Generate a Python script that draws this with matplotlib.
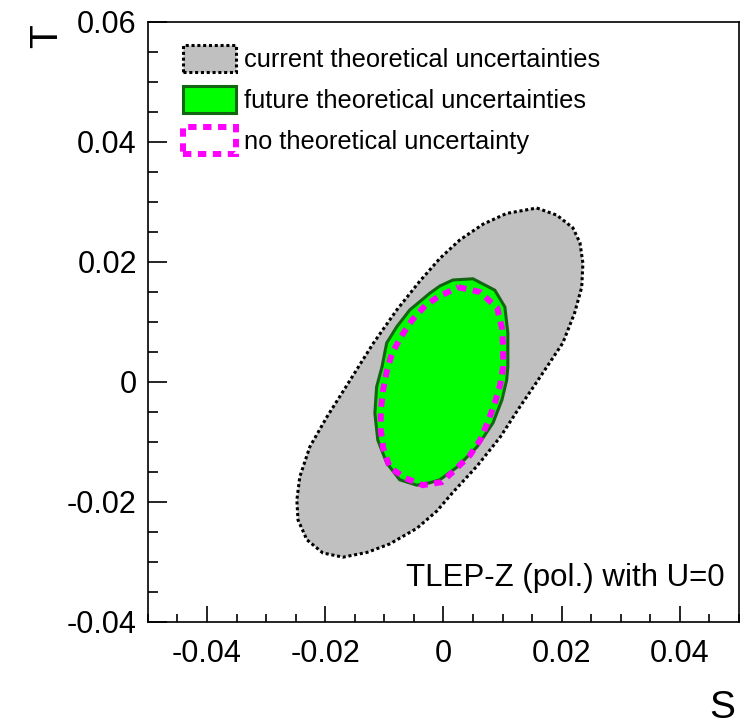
import matplotlib
matplotlib.use("Agg")
import matplotlib.pyplot as plt
from matplotlib.patches import Patch
from matplotlib.ticker import MultipleLocator, FuncFormatter

plt.rcParams['font.family'] = ['Liberation Sans', 'DejaVu Sans']

# contour of current theoretical uncertainties (S, T)
cur_S = [0.0158, 0.0192, 0.0219, 0.0231, 0.0236, 0.0234, 0.0222, 0.0202, 0.0158,
         0.0129, 0.0096, 0.0057, 0.0016, -0.0011, -0.0045, -0.0091, -0.0129, -0.0170,
         -0.0204, -0.0231, -0.0246, -0.0248, -0.0243, -0.0226, -0.0197, -0.0163,
         -0.0119, -0.0079, -0.0040, -0.0006, 0.0028, 0.0067, 0.0107]
cur_T = [0.0290, 0.0278, 0.0257, 0.0232, 0.0198, 0.0158, 0.0115, 0.0065, 0.0000,
         -0.0042, -0.0092, -0.0140, -0.0184, -0.0215, -0.0244, -0.0270, -0.0284, -0.0292,
         -0.0285, -0.0263, -0.0230, -0.0197, -0.0158, -0.0108, -0.0058, -0.0005,
         0.0064, 0.0120, 0.0168, 0.0206, 0.0237, 0.0263, 0.0281]

# contour of future theoretical uncertainties
fut_S = [0.0050, 0.0087, 0.0104, 0.0109, 0.0109, 0.0107, 0.0099, 0.0084, 0.0057,
         0.0023, -0.0006, -0.0023, -0.0045, -0.0074, -0.0096, -0.0111, -0.0116,
         -0.0113, -0.0104, -0.0096, -0.0079, -0.0057, -0.0023, -0.0006, 0.0016]
fut_T = [0.0172, 0.0153, 0.0125, 0.0082, 0.0025, 0.0003, -0.0030, -0.0068, -0.0108,
         -0.0142, -0.0163, -0.0168, -0.0172, -0.0163, -0.0135, -0.0097, -0.0052,
         -0.0008, 0.0025, 0.0065, 0.0092, 0.0120, 0.0148, 0.0160, 0.0170]

# contour with no theoretical uncertainty
non_S = [0.0025, 0.0062, 0.0091, 0.0099, 0.0101, 0.0101, 0.0096, 0.0087, 0.0075,
         0.0062, 0.0045, 0.0019, -0.0003, -0.0035, -0.0065, -0.0091, -0.0102, -0.0106,
         -0.0106, -0.0102, -0.0096, -0.0087, -0.0070, -0.0053, -0.0031, -0.0009]
non_T = [0.0158, 0.0150, 0.0123, 0.0090, 0.0058, 0.0025, -0.0005, -0.0035, -0.0067,
         -0.0097, -0.0122, -0.0147, -0.0167, -0.0172, -0.0160, -0.0142, -0.0110, -0.0080,
         -0.0047, -0.0013, 0.0017, 0.0048, 0.0078, 0.0103, 0.0127, 0.0142]

labels = ['current theoretical uncertainties',
          'future theoretical uncertainties',
          'no theoretical uncertainty']

fig = plt.figure(figsize=(7.47, 7.26), dpi=100)
ax = fig.add_axes([0.198, 0.1433, 0.7912, 0.8264])

dot = (0, (1, 0.9))
dash = (0, (1.4, 1.1))

ax.fill(cur_S, cur_T, facecolor='#c0c0c0', edgecolor='black', linestyle=dot, linewidth=2.2)
ax.fill(fut_S, fut_T, facecolor='#00ff00', edgecolor='#126612', linewidth=2.2)
ax.fill(non_S, non_T, facecolor='none', edgecolor='#ff00ff', linestyle=dash, linewidth=4.3)

ax.set_xlim(-0.05, 0.05)
ax.set_ylim(-0.04, 0.06)

ax.xaxis.set_major_locator(MultipleLocator(0.02))
ax.xaxis.set_minor_locator(MultipleLocator(0.005))
ax.yaxis.set_major_locator(MultipleLocator(0.02))
ax.yaxis.set_minor_locator(MultipleLocator(0.005))
fmt = FuncFormatter(lambda v, p: '0' if abs(v) < 1e-9 else '%g' % round(v, 3))
ax.xaxis.set_major_formatter(fmt)
ax.yaxis.set_major_formatter(fmt)

ax.tick_params(axis='both', which='both', direction='in', top=False, right=False,
               labelsize=22, width=1.2)
ax.tick_params(axis='y', which='major', length=13.7, pad=8)
ax.tick_params(axis='y', which='minor', length=7)
ax.tick_params(axis='x', which='major', length=11.5, pad=12)
ax.tick_params(axis='x', which='minor', length=6)
for sp in ax.spines.values():
    sp.set_linewidth(1.2)

handles = [Patch(facecolor='#c0c0c0', edgecolor='black', linestyle=dot, linewidth=2.2),
           Patch(facecolor='#00ff00', edgecolor='#126612', linewidth=2.2),
           Patch(facecolor='none', edgecolor='#ff00ff', linestyle=dash, linewidth=4.3)]
ax.legend(handles, labels, loc='upper left', bbox_to_anchor=(0.059, 0.962),
          frameon=False, fontsize=18.3, borderpad=0, borderaxespad=0,
          handlelength=2.08, handleheight=1.24, labelspacing=0.56, handletextpad=0.32)

ax.text(0.976, 0.073, 'TLEP-Z (pol.) with U=0', transform=ax.transAxes,
        ha='right', va='center', fontsize=22.5)

fig.text(47 / 747, 1 - 36 / 726, 'T', rotation=90, ha='center', va='center', fontsize=28)
fig.text(722 / 747, 1 - 708 / 726, 'S', ha='center', va='center', fontsize=28)

fig.savefig('out.png', dpi=100)
